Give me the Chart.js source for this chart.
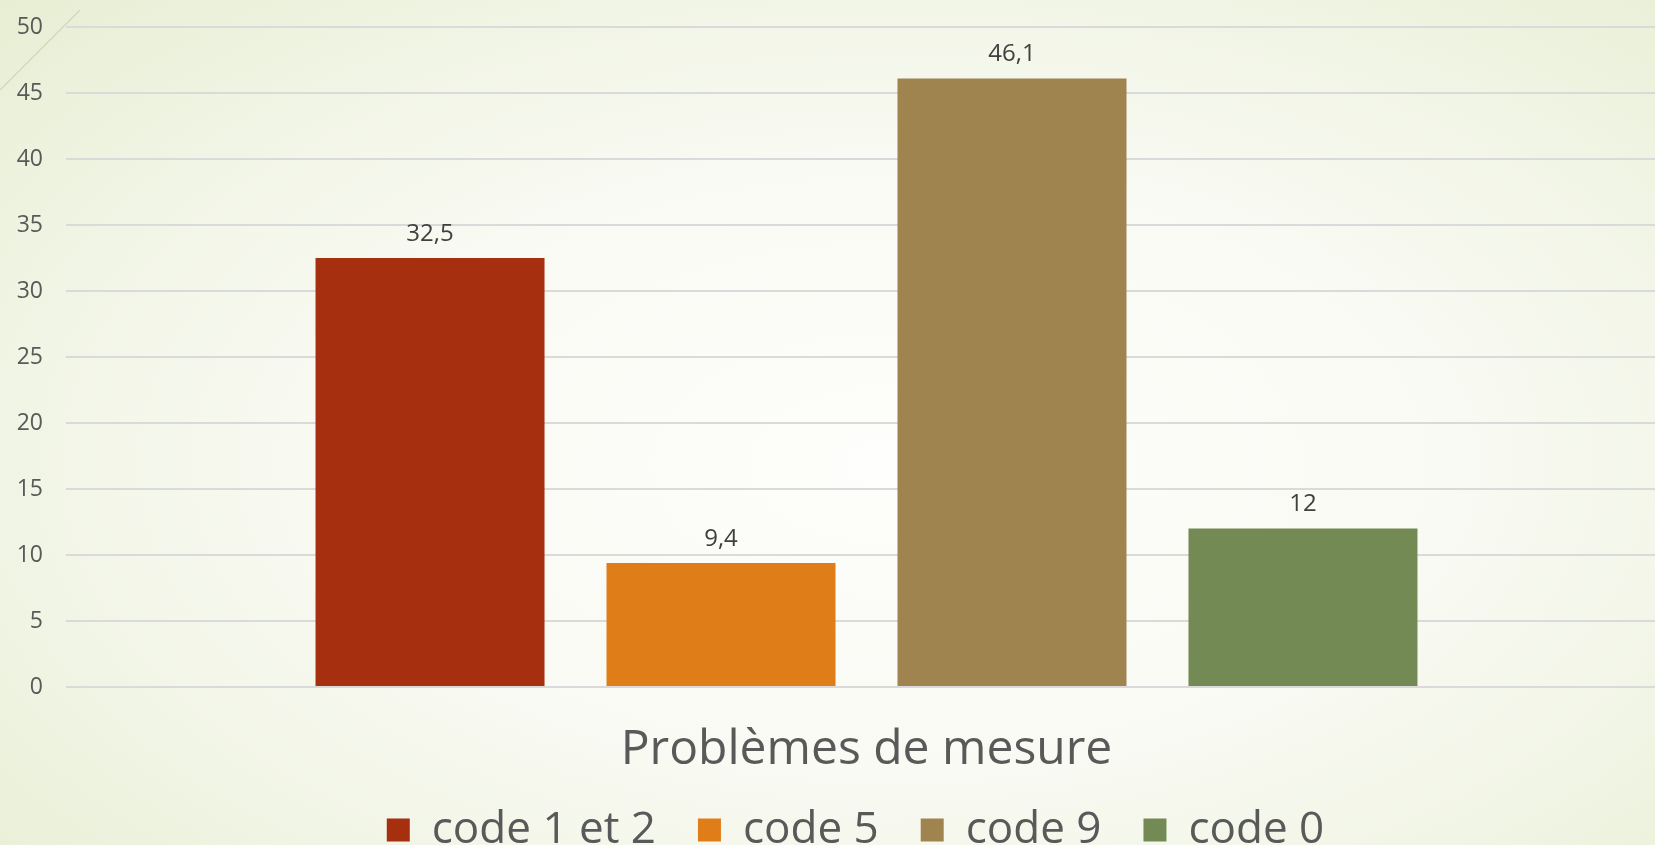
<!DOCTYPE html>
<html>
<head>
<meta charset="utf-8">
<script src="https://cdn.jsdelivr.net/npm/chart.js@4/dist/chart.umd.min.js"></script>
<style>
  html, body { margin: 0; padding: 0; overflow: hidden; }
  body {
    width: 1655px; height: 845px;
    background: radial-gradient(ellipse 75% 80% at 54% 55%, #fefefc 0%, #f9faf3 45%, #eef3e0 80%, #e7eed2 100%);
  }
  #wrap { width: 1667px; height: 845px; }
</style>
</head>
<body>
<div id="wrap"><canvas id="myChart" width="1667" height="845"></canvas></div>
<script>
const categories = ['Problèmes de mesure'];
const seriesNames = ['code 1 et 2', 'code 5', 'code 9', 'code 0'];
const seriesValues = [32.5, 9.4, 46.1, 12];
const seriesColors = ['#a52f0f', '#df7e19', '#a08450', '#748a54'];
const yTicks = [0, 5, 10, 15, 20, 25, 30, 35, 40, 45, 50];

const FONT = '"Open Sans", "Noto Sans", sans-serif';

// petite ligne diagonale du coin (décor de la diapo)
const cornerLine = {
    id: 'cornerLine',
    beforeDraw(chart) {
        let c = chart.ctx;
        c.save();
        c.strokeStyle = '#d4d9bb';
        c.lineWidth = 1.5;
        c.beginPath();
        c.moveTo(0, 90);
        c.lineTo(80, 10);
        c.stroke();
        c.restore();
    }
};

// étiquettes de valeurs au-dessus des barres
const valueLabels = {
    id: 'valueLabels',
    afterDatasetsDraw(chart) {
        let c = chart.ctx;
        c.save();
        c.font = '24px ' + FONT;
        c.fillStyle = '#404040';
        c.textAlign = 'center';
        c.textBaseline = 'bottom';
        chart.data.datasets.forEach((ds, i) => {
            let bar = chart.getDatasetMeta(i).data[0];
            let txt = String(ds.data[0]).replace('.', ',');
            c.fillText(txt, bar.x, bar.y - 12);
        });
        c.restore();
    }
};

// la légende est un peu plus à gauche et plus haut que ce que Chart.js calcule
const legendShift = {
    id: 'legendShift',
    afterLayout(chart) {
        chart.legend.left += 22;
        chart.legend.right += 22;
        chart.legend.top -= 6;
        chart.legend.bottom -= 6;
    }
};

const ctx = document.getElementById('myChart').getContext('2d');
let myChart = new Chart(ctx, {
    type: 'bar',
    data: {
        labels: categories,
        datasets: seriesNames.map((name, i) => ({
            label: name,
            data: [seriesValues[i]],
            backgroundColor: seriesColors[i],
            categoryPercentage: 0.727,
            barPercentage: 0.787
        }))
    },
    options: {
        responsive: false,
        animation: false,
        layout: { padding: { left: 0, right: 0, top: 27, bottom: -23 } },
        scales: {
            y: {
                min: 0, max: 50,
                afterFit(scale) {
                    scale.width = 66;
                    scale.paddingTop = 12;
                    scale.paddingBottom = 12;
                },
                afterBuildTicks(scale) { scale.ticks = yTicks.map(v => ({ value: v })); },
                border: { display: false },
                grid: { color: '#dadada', lineWidth: 2, drawTicks: false },
                ticks: { padding: 23, color: '#595959', font: { size: 23, family: FONT } }
            },
            x: {
                afterFit(scale) { scale.height = 85; },
                border: { display: false },
                grid: { display: false },
                ticks: { padding: 27, color: '#595959', font: { size: 48, family: FONT } }
            }
        },
        plugins: {
            tooltip: { enabled: false },
            legend: {
                position: 'bottom',
                labels: {
                    boxWidth: 23, boxHeight: 23, padding: 42,
                    color: '#595959',
                    font: { size: 44, family: FONT }
                }
            }
        }
    },
    plugins: [cornerLine, valueLabels, legendShift]
});
</script>
</body>
</html>
